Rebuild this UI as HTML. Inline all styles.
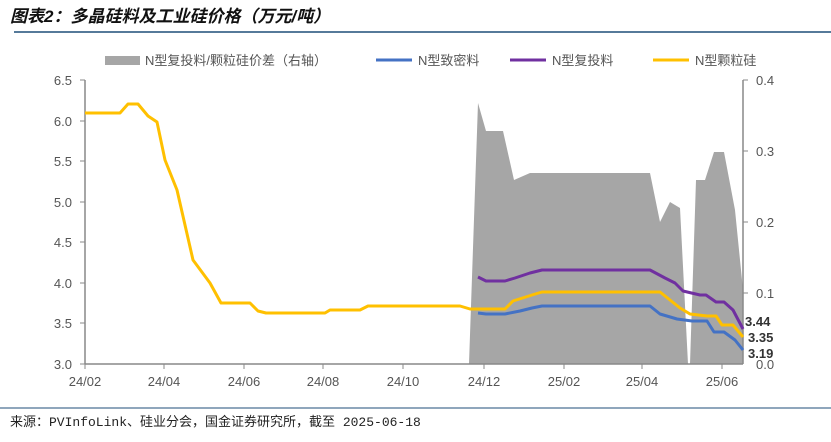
<!DOCTYPE html>
<html><head><meta charset="utf-8"><style>
body{margin:0;background:#fff;width:831px;height:437px;overflow:hidden;font-family:"Liberation Sans","Noto Sans CJK SC",sans-serif;}
</style></head><body>
<svg width="831" height="437" xmlns="http://www.w3.org/2000/svg" font-family="Liberation Sans, Noto Sans CJK SC, sans-serif">
<text x="10" y="22" font-size="17" font-weight="bold" font-style="italic" fill="#111" font-family="Liberation Sans, Noto Sans CJK SC, sans-serif">图表2：多晶硅料及工业硅价格（万元/吨）</text>
<line x1="14" y1="32" x2="831" y2="32" stroke="#1f4e79" stroke-width="1.5"/>
<!-- legend -->
<rect x="105" y="56" width="35" height="9" fill="#a6a6a6"/>
<text x="145" y="65" font-size="13" fill="#555">N型复投料/颗粒硅价差（右轴）</text>
<line x1="376" y1="60" x2="412" y2="60" stroke="#4472c4" stroke-width="3"/>
<text x="418" y="65" font-size="13" fill="#555">N型致密料</text>
<line x1="510" y1="60" x2="546" y2="60" stroke="#7030a0" stroke-width="3"/>
<text x="552" y="65" font-size="13" fill="#555">N型复投料</text>
<line x1="653" y1="60" x2="689" y2="60" stroke="#ffc000" stroke-width="3"/>
<text x="695" y="65" font-size="13" fill="#555">N型颗粒硅</text>
<!-- gray area -->
<polygon fill="#a6a6a6" points="469,364 478,103 486,131 503,131 514,180 530,173 542,173 650,173 660,222 670,202 680,208 688,364 690,364 696,180 705,180 714,152 724,152 735,210 743,290 743,364"/>
<!-- axes -->
<line x1="85" y1="80" x2="85" y2="364" stroke="#888" stroke-width="1.5"/>
<line x1="743" y1="80" x2="743" y2="364" stroke="#888" stroke-width="1.5"/>
<line x1="85" y1="364" x2="743" y2="364" stroke="#888" stroke-width="1.5"/>
<g stroke="#888" stroke-width="1">
<line x1="80" y1="80" x2="85" y2="80"/><line x1="80" y1="121" x2="85" y2="121"/><line x1="80" y1="161" x2="85" y2="161"/><line x1="80" y1="202" x2="85" y2="202"/><line x1="80" y1="242" x2="85" y2="242"/><line x1="80" y1="283" x2="85" y2="283"/><line x1="80" y1="323" x2="85" y2="323"/><line x1="80" y1="364" x2="85" y2="364"/>
<line x1="743" y1="80" x2="748" y2="80"/><line x1="743" y1="151" x2="748" y2="151"/><line x1="743" y1="222" x2="748" y2="222"/><line x1="743" y1="293" x2="748" y2="293"/>
<line x1="85" y1="364" x2="85" y2="369"/><line x1="164" y1="364" x2="164" y2="369"/><line x1="244" y1="364" x2="244" y2="369"/><line x1="323" y1="364" x2="323" y2="369"/><line x1="403" y1="364" x2="403" y2="369"/><line x1="484" y1="364" x2="484" y2="369"/><line x1="564" y1="364" x2="564" y2="369"/><line x1="642" y1="364" x2="642" y2="369"/><line x1="722" y1="364" x2="722" y2="369"/>
</g>
<g font-size="13" fill="#555" text-anchor="end">
<text x="72" y="85">6.5</text><text x="72" y="126">6.0</text><text x="72" y="166">5.5</text><text x="72" y="207">5.0</text><text x="72" y="247">4.5</text><text x="72" y="288">4.0</text><text x="72" y="328">3.5</text><text x="72" y="369">3.0</text>
</g>
<g font-size="13" fill="#555">
<text x="756" y="85">0.4</text><text x="756" y="156">0.3</text><text x="756" y="227">0.2</text><text x="756" y="298">0.1</text><text x="756" y="369">0.0</text>
</g>
<g font-size="13" fill="#555" text-anchor="middle">
<text x="85" y="386">24/02</text><text x="164" y="386">24/04</text><text x="244" y="386">24/06</text><text x="323" y="386">24/08</text><text x="403" y="386">24/10</text><text x="484" y="386">24/12</text><text x="564" y="386">25/02</text><text x="642" y="386">25/04</text><text x="722" y="386">25/06</text>
</g>
<g fill="none" stroke-width="3" stroke-linejoin="round">
<polyline stroke="#4472c4" points="478,313 486,314 505,314 520,311 532,308 542,306 650,306 660,314 677,319 692,321 707,321 714,332 724,332 735,340 743,350"/>
<polyline stroke="#7030a0" points="478,277 486,281 505,281 515,278 530,273 542,270 650,270 665,278 675,283 683,291 700,295 706,295 716,302 724,302 733,310 743,329"/>
<polyline stroke="#ffc000" points="85,113 120,113 128,104 138,104 148,116 157,122 165,160 177,190 193,260 210,283 221,303 250,303 258,311 266,313 325,313 330,310 360,310 368,306 460,306 470,309 505,309 513,301 532,295 542,292 660,292 680,308 690,314 707,316 716,316 722,325 733,325 743,337"/>
</g>
<g font-size="13" font-weight="bold" fill="#333">
<text x="745" y="326">3.44</text><text x="748" y="342">3.35</text><text x="748" y="358">3.19</text>
</g>
<line x1="0" y1="408" x2="831" y2="408" stroke="#1f4e79" stroke-width="1"/>
<text x="10" y="426" font-size="13" fill="#222" font-family="Liberation Mono, Noto Sans CJK SC, monospace">来源：PVInfoLink、硅业分会，国金证券研究所，截至 2025-06-18</text>
</svg>
</body></html>
